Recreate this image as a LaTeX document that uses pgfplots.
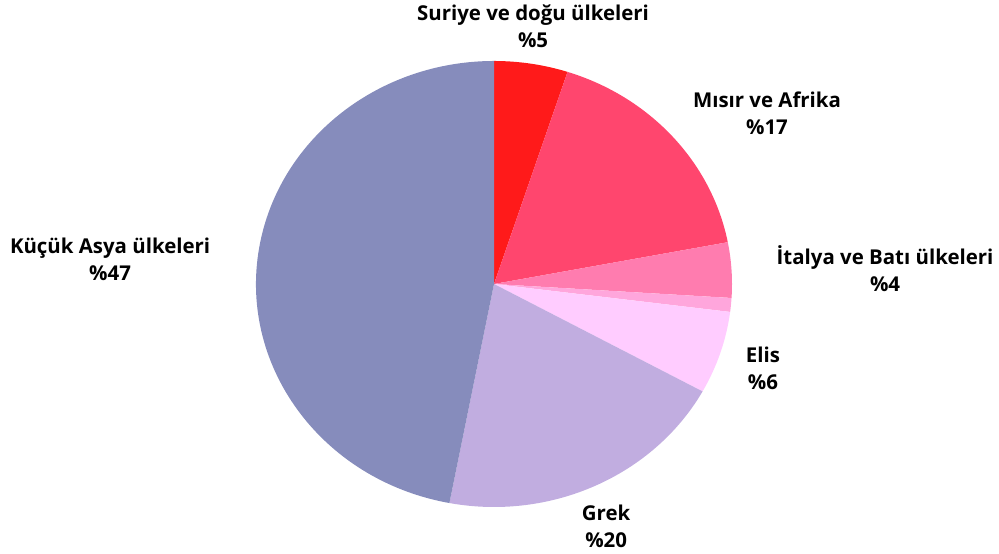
\documentclass[border=0pt]{standalone}
\usepackage{pgfplots}
\pgfplotsset{compat=1.18}
\usepackage{fontspec}
\setmainfont{Open Sans}[BoldFont={* Bold}]

\definecolor{cSur}{HTML}{FF1A1A}
\definecolor{cMis}{HTML}{FF466E}
\definecolor{cIta}{HTML}{FF7CAF}
\definecolor{cOth}{HTML}{FFA6DC}
\definecolor{cEli}{HTML}{FFCCFF}
\definecolor{cGre}{HTML}{C1ADE0}
\definecolor{cKuc}{HTML}{868CBC}

% slice: start share, share (percent), colour
\newcommand\slice[3]{%
  \pgfmathsetmacro\sa{90-3.6*#1}%
  \pgfmathsetmacro\ea{90-3.6*(#1+#2)}%
  \pgfmathsetmacro\sx{cos(\sa)}%
  \pgfmathsetmacro\sy{sin(\sa)}%
  \edef\temp{\noexpand\fill[#3] (axis cs:0,0) -- (axis cs:\sx,\sy)
    arc[start angle=\sa, end angle=\ea, x radius=238bp, y radius=223bp] -- cycle;}%
  \temp}

\begin{document}
\begin{tikzpicture}
\begin{axis}[
  x=238bp, y=223bp,
  xmin=-2.0756, xmax=2.1218,
  ymin=-1.2063, ymax=1.2735,
  hide axis, clip=false,
  nodes={font=\bfseries\fontsize{20.5}{27}\selectfont, align=center, text=black}
]
\slice{0}{5}{cSur}
\slice{5}{17}{cMis}
\slice{22}{4}{cIta}
\slice{26}{1}{cOth}
\slice{27}{6}{cEli}
\slice{33}{20}{cGre}
\slice{53}{47}{cKuc}

\node at (axis cs:0.164,1.155) {Suriye ve doğu ülkeleri\\\%5};
\node at (axis cs:1.147,0.765) {Mısır ve Afrika\\\%17};
\node at (axis cs:1.643,0.070) {İtalya ve Batı ülkeleri\\\%4};
\node at (axis cs:1.130,-0.379) {Elis\\\%6};
\node at (axis cs:0.471,-1.085) {Grek\\\%20};
\node at (axis cs:-1.613,0.112) {Küçük Asya ülkeleri\\\%47};
\end{axis}
\pgfresetboundingbox
\useasboundingbox (current axis.south west) rectangle (current axis.north east);
\end{tikzpicture}
\end{document}
